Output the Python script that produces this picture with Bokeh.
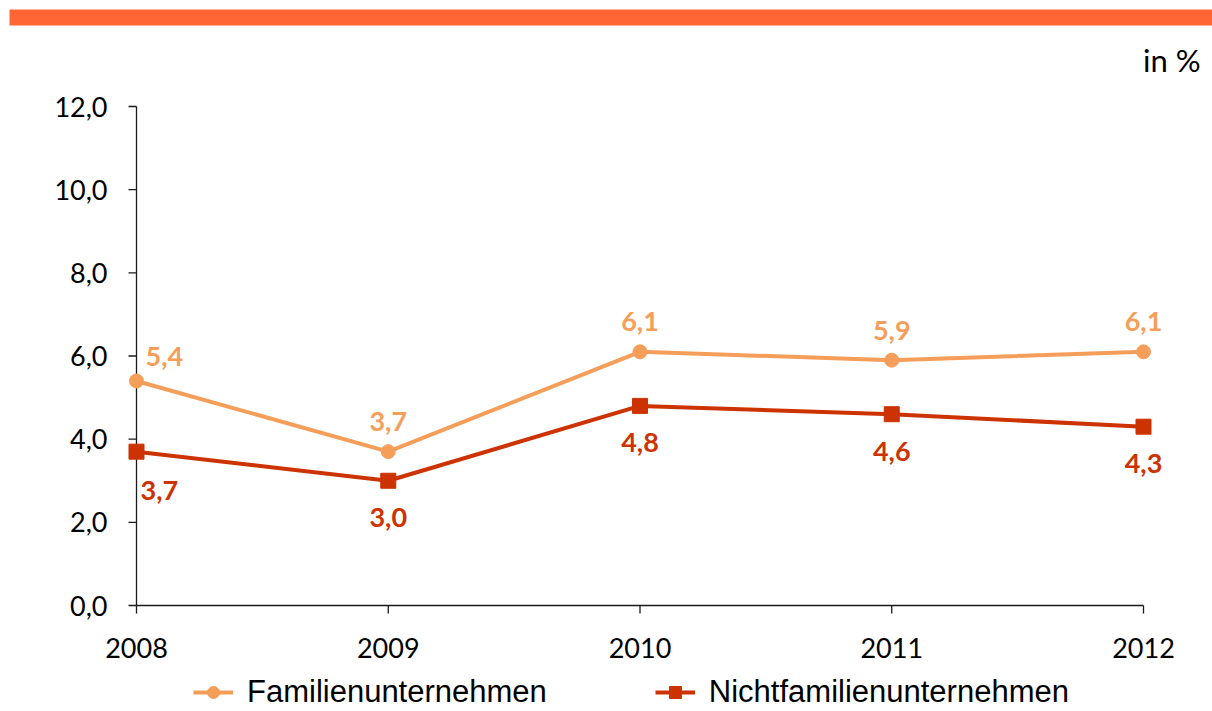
from bokeh.plotting import figure
from bokeh.models import (Label, LabelSet, Legend, LegendItem, Range1d,
                          BoxAnnotation, ColumnDataSource)
from bokeh.core.properties import value
from bokeh.embed import file_html
from bokeh.resources import INLINE

# ---- data ----
years = [2008, 2009, 2010, 2011, 2012]
familien = [5.4, 3.7, 6.1, 5.9, 6.1]
nichtfamilien = [3.7, 3.0, 4.8, 4.6, 4.3]
series_names = ["Familienunternehmen", "Nichtfamilienunternehmen"]
y_ticks = [0, 2, 4, 6, 8, 10, 12]
y_tick_labels = ["0,0", "2,0", "4,0", "6,0", "8,0", "10,0", "12,0"]
x_tick_labels = ["2008", "2009", "2010", "2011", "2012"]
unit_label = "in %"

# ---- style / layout ----
C_FAM = "#F59E5A"
C_NICHT = "#CC3300"
C_BAR = "#FF6633"
C_AXIS = "#1a1a1a"
TICK_FONT = "Lato"
LEGEND_FONT = "Liberation Sans"
W, H = 1212, 711
# pixel placement of the plotting area on the canvas
PX_LEFT, PX_RIGHT, PX_TOP, PX_BOTTOM = 136, 1143, 106, 605
X_MIN, X_MAX = years[0], years[-1]
Y_MIN, Y_MAX = y_ticks[0], y_ticks[-1]
sx = (PX_RIGHT - PX_LEFT) / (X_MAX - X_MIN)   # px per x unit
sy = (PX_BOTTOM - PX_TOP) / (Y_MAX - Y_MIN)   # px per y unit
x_range = Range1d(X_MIN - PX_LEFT / sx, X_MAX + (W - PX_RIGHT) / sx)
y_range = Range1d(Y_MIN - (H - PX_BOTTOM) / sy, Y_MAX + PX_TOP / sy)
TICK = 8


def fmt(v):
    return f"{v:.1f}".replace(".", ",")


p = figure(width=W, height=H, output_backend="svg", toolbar_location=None,
           x_range=x_range, y_range=y_range,
           x_axis_location=None, y_axis_location=None, min_border=0)
p.outline_line_color = None
p.background_fill_color = "white"
p.border_fill_color = "white"
p.grid.visible = False

# orange band at the top
band = BoxAnnotation(left=x_range.start + 9 / sx, right=None,
                     top=y_range.end - 9 / sy, bottom=y_range.end - 25 / sy,
                     fill_color=C_BAR, fill_alpha=1, line_color=None)
p.add_layout(band)

# axes (lines, ticks, labels) placed through the data scales
p.segment(x0=[X_MIN], y0=[Y_MIN], x1=[X_MIN], y1=[Y_MAX],
          line_color=C_AXIS, line_width=1.3)
p.segment(x0=[X_MIN], y0=[Y_MIN], x1=[X_MAX], y1=[Y_MIN],
          line_color=C_AXIS, line_width=1.3)
p.segment(x0=[X_MIN - TICK / sx] * len(y_ticks), y0=y_ticks,
          x1=[X_MIN] * len(y_ticks), y1=y_ticks,
          line_color=C_AXIS, line_width=1.3)
p.segment(x0=years, y0=[Y_MIN - TICK / sy] * len(years),
          x1=years, y1=[Y_MIN] * len(years),
          line_color=C_AXIS, line_width=1.3)

ysrc = ColumnDataSource(dict(x=[X_MIN] * len(y_ticks), y=y_ticks, t=y_tick_labels))
p.add_layout(LabelSet(x="x", y="y", text="t", source=ysrc, x_offset=-29,
                      text_align="right", text_baseline="middle",
                      text_font=value(TICK_FONT), text_font_size=value("27px"),
                      text_color="#000000"))
xsrc = ColumnDataSource(dict(x=years, y=[Y_MIN] * len(years), t=x_tick_labels))
p.add_layout(LabelSet(x="x", y="y", text="t", source=xsrc, y_offset=-42,
                      text_align="center", text_baseline="middle",
                      text_font=value(TICK_FONT), text_font_size=value("27px"),
                      text_color="#000000"))

# series
l1 = p.line(years, familien, line_color=C_FAM, line_width=4)
m1 = p.scatter(years, familien, marker="circle", size=14, fill_color=C_FAM,
               line_color=C_FAM)
l2 = p.line(years, nichtfamilien, line_color=C_NICHT, line_width=4)
m2 = p.scatter(years, nichtfamilien, marker="square", size=15, fill_color=C_NICHT,
               line_color=C_NICHT)

# data labels
for i, (x, v) in enumerate(zip(years, familien)):
    if i == 0:
        lab = Label(x=x, y=v, text=fmt(v), x_offset=9, y_offset=24,
                    text_align="left", text_baseline="middle")
    else:
        lab = Label(x=x, y=v, text=fmt(v), x_offset=0, y_offset=30,
                    text_align="center", text_baseline="middle")
    lab.text_font = TICK_FONT
    lab.text_font_style = "bold"
    lab.text_font_size = "27px"
    lab.text_color = C_FAM
    p.add_layout(lab)

for i, (x, v) in enumerate(zip(years, nichtfamilien)):
    if i == 0:
        lab = Label(x=x, y=v, text=fmt(v), x_offset=4, y_offset=-39,
                    text_align="left", text_baseline="middle")
    else:
        lab = Label(x=x, y=v, text=fmt(v), x_offset=0, y_offset=-37,
                    text_align="center", text_baseline="middle")
    lab.text_font = TICK_FONT
    lab.text_font_style = "bold"
    lab.text_font_size = "27px"
    lab.text_color = C_NICHT
    p.add_layout(lab)

unit = Label(x=X_MAX, y=Y_MAX, text=unit_label, x_offset=57, y_offset=47,
             text_align="right", text_baseline="middle", text_font=TICK_FONT,
             text_font_size="31px", text_color="#000000")
p.add_layout(unit)

legend = Legend(items=[LegendItem(label=series_names[0], renderers=[l1, m1]),
                       LegendItem(label=series_names[1], renderers=[l2, m2])],
                orientation="horizontal", location=(193, 1),
                label_text_font=LEGEND_FONT, label_text_font_size="31px",
                label_text_color="#000000",
                glyph_width=40, glyph_height=30, label_standoff=14, spacing=108,
                padding=0, margin=0, border_line_color=None,
                background_fill_alpha=0)
p.add_layout(legend, "center")

open("out.html", "w").write(file_html(p, INLINE))
